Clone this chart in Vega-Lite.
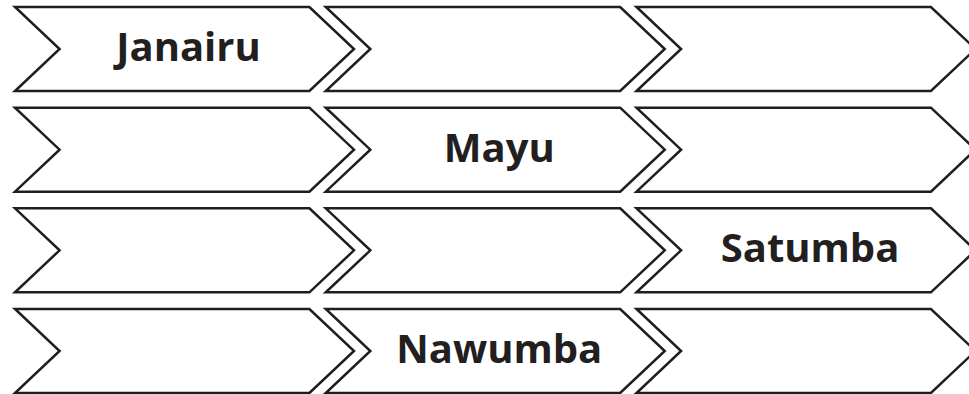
{
  "$schema": "https://vega.github.io/schema/vega-lite/v6.json",
  "width": 969,
  "height": 394,
  "padding": 0,
  "autosize": {"type": "none"},
  "background": "white",
  "config": {"view": {"stroke": null}},
  "data": {
    "values": [
      {"row": 1, "col": 1, "label": "Janairu"},
      {"row": 1, "col": 2, "label": ""},
      {"row": 1, "col": 3, "label": ""},
      {"row": 2, "col": 1, "label": ""},
      {"row": 2, "col": 2, "label": "Mayu"},
      {"row": 2, "col": 3, "label": ""},
      {"row": 3, "col": 1, "label": ""},
      {"row": 3, "col": 2, "label": ""},
      {"row": 3, "col": 3, "label": "Satumba"},
      {"row": 4, "col": 1, "label": ""},
      {"row": 4, "col": 2, "label": "Nawumba"},
      {"row": 4, "col": 3, "label": ""}
    ]
  },
  "encoding": {
    "x": {"field": "col", "type": "quantitative", "axis": null,
          "scale": {"domain": [0.4063, 3.5245], "nice": false, "zero": false}},
    "y": {"field": "row", "type": "quantitative", "axis": null,
          "scale": {"domain": [0.5133, 4.4271], "nice": false, "zero": false, "reverse": true}}
  },
  "layer": [
    {
      "mark": {
        "type": "point",
        "shape": "M-1,-0.2478L0.737,-0.2478L1,0L0.737,0.2478L-1,0.2478L-0.737,0Z",
        "size": 114921,
        "filled": true,
        "fill": "white",
        "fillOpacity": 1,
        "opacity": 1,
        "stroke": "#1f1d1d",
        "strokeWidth": 2.5,
        "strokeJoin": "miter"
      }
    },
    {
      "transform": [{"filter": "datum.label != ''"}],
      "mark": {
        "type": "text",
        "font": "Open Sans",
        "fontWeight": "bold",
        "fontSize": 40,
        "color": "#231f20",
        "baseline": "alphabetic",
        "align": "center",
        "dy": 12,
        "dx": 4
      },
      "encoding": {"text": {"field": "label"}}
    }
  ]
}
